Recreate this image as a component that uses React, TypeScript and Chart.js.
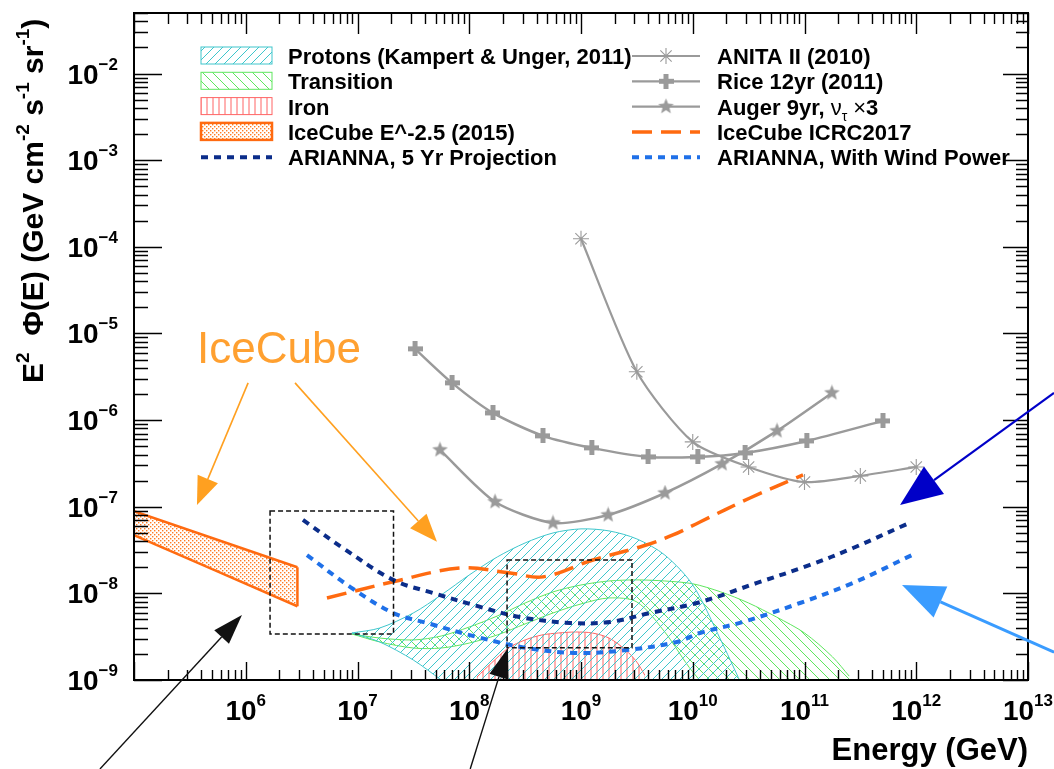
import React, { useEffect, useRef } from 'react';
import { Chart, registerables } from 'chart.js';

Chart.register(...registerables);

// ---------------- data (E in GeV, E^2 Phi in GeV cm^-2 s^-1 sr^-1) ----------------
const X_TICK_EXPONENTS = ['6', '7', '8', '9', '10', '11', '12', '13'];
const Y_TICK_EXPONENTS = ['\u22129', '\u22128', '\u22127', '\u22126', '\u22125', '\u22124', '\u22123', '\u22122'];

const ICECUBE_E = [1.0e5, 2.9e6];
const ICECUBE_HI = [8.9e-8, 2.0e-8];
const ICECUBE_LO = [4.7e-8, 7.1e-9];

const PROTON_E = [8.91e6, 1.58e7, 3.16e7, 5.62e7, 1.0e8, 1.78e8, 3.16e8, 5.62e8, 1.0e9, 1.78e9, 3.16e9, 5.62e9, 1.0e10, 1.78e10, 3.16e10];
const PROTON_HI = [3.49e-9, 3.98e-9, 5.94e-9, 9.6e-9, 1.63e-8, 2.63e-8, 3.82e-8, 4.98e-8, 5.55e-8, 5.26e-8, 4.25e-8, 2.77e-8, 1.25e-8, 2.9e-9, 5.9e-10];
const PROTON_LO = [3.49e-9, 2.75e-9, 1.7e-9, 1.0e-9, 5.9e-10, 5e-10, 5e-10, 5e-10, 5e-10, 5e-10, 5e-10, 5e-10, 5e-10, 5e-10, 5e-10];

const TRANS_E = [8.91e6, 1.58e7, 3.16e7, 5.62e7, 1.0e8, 1.78e8, 3.16e8, 5.62e8, 1.0e9, 1.78e9, 3.16e9, 5.62e9, 1.0e10, 1.78e10, 3.16e10, 5.62e10, 1.0e11, 1.78e11, 2.51e11];
const TRANS_HI = [3.4e-9, 3.05e-9, 2.9e-9, 3.22e-9, 4.09e-9, 5.48e-9, 7.74e-9, 1.04e-8, 1.25e-8, 1.39e-8, 1.43e-8, 1.39e-8, 1.29e-8, 1.04e-8, 7.74e-9, 5.33e-9, 3.49e-9, 1.85e-9, 1.11e-9];
const TRANS_LO = [3.4e-9, 2.75e-9, 2.34e-9, 2.34e-9, 2.67e-9, 3.31e-9, 4.44e-9, 5.94e-9, 7.55e-9, 8.85e-9, 7.96e-9, 3.58e-9, 1.24e-9, 5.9e-10, 5e-10, 5e-10, 5e-10, 5e-10, 5e-10];

const IRON_E = [1.17e8, 1.58e8, 2.24e8, 3.16e8, 4.47e8, 6.31e8, 8.91e8, 1.26e9, 1.78e9, 2.51e9, 3.16e9, 3.72e9];
const IRON_HI = [1.08e-9, 1.57e-9, 2.34e-9, 2.9e-9, 3.31e-9, 3.49e-9, 3.58e-9, 3.49e-9, 3.05e-9, 2.22e-9, 1.61e-9, 1.14e-9];
const IRON_LO = [5e-10, 5e-10, 5e-10, 5e-10, 5e-10, 5e-10, 5e-10, 5e-10, 5e-10, 5e-10, 5e-10, 5e-10];

const ANITA_E = [1.0e9, 3.16e9, 1.0e10, 3.16e10, 1.0e11, 3.16e11, 1.0e12];
const ANITA_F = [1.24e-4, 3.61e-6, 5.6e-7, 2.88e-7, 1.93e-7, 2.27e-7, 2.88e-7];

const RICE_E = [3.27e7, 7.01e7, 1.63e8, 4.57e8, 1.25e9, 3.98e9, 1.11e10, 2.94e10, 1.05e11, 5.04e11];
const RICE_F = [6.64e-6, 2.69e-6, 1.21e-6, 6.58e-7, 4.78e-7, 3.76e-7, 3.76e-7, 4.18e-7, 5.75e-7, 9.79e-7];

const AUGER_E = [5.47e7, 1.7e8, 5.61e8, 1.75e9, 5.65e9, 1.83e10, 5.68e10, 1.76e11];
const AUGER_F = [4.53e-7, 1.14e-7, 6.5e-8, 8.04e-8, 1.44e-7, 3.12e-7, 7.5e-7, 2.06e-6];

const ICRC_E = [5.33e6, 2.08e7, 8.26e7, 2.32e8, 4.57e8, 1.28e9, 3.59e9, 6.65e9, 1.16e10, 3.25e10, 9.7e10];
const ICRC_F = [8.85e-9, 1.36e-8, 1.96e-8, 1.72e-8, 1.55e-8, 2.43e-8, 3.52e-8, 4.72e-8, 6.67e-8, 1.26e-7, 2.33e-7];

const ARI5_E = [3.25e6, 7.41e6, 2.08e7, 4.74e7, 1.17e8, 2.84e8, 7.98e8, 1.82e9, 4.14e9, 1.09e10, 3.76e10, 1.12e11, 2.72e11, 8.26e11];
const ARI5_F = [7.05e-8, 3.34e-8, 1.43e-8, 1.01e-8, 7.16e-9, 5.33e-9, 4.55e-9, 4.68e-9, 5.94e-9, 7.74e-9, 1.32e-8, 2.13e-8, 3.34e-8, 6.32e-8];

const ARIW_E = [3.53e6, 8.57e6, 2.08e7, 4.19e7, 1.17e8, 3.29e8, 9.2e8, 2.58e9, 7.23e9, 1.16e10, 2.82e10, 9.12e10, 2.72e11, 9.16e11];
const ARIW_F = [2.77e-8, 1.19e-8, 5.94e-9, 4.55e-9, 3.14e-9, 2.34e-9, 2.05e-9, 2.22e-9, 2.75e-9, 3.49e-9, 4.68e-9, 7.74e-9, 1.32e-8, 2.77e-8];

const LEGEND_LEFT = ['Protons (Kampert & Unger, 2011)', 'Transition', 'Iron', 'IceCube E^-2.5 (2015)', 'ARIANNA, 5 Yr Projection'];
const LEGEND_RIGHT = ['ANITA II (2010)', 'Rice 12yr (2011)', 'Auger 9yr, ', 'IceCube ICRC2017', 'ARIANNA, With Wind Power'];

const X_TITLE = 'Energy (GeV)';
const ANNOT_TEXT = 'IceCube';
// annotation anchors in data coordinates [E, flux]
const ANNOT_TEXT_AT = [3.66e5, 4.58e-6];
const ZOOM_BOXES = [
  [1.65e6, 2.1e7, 3.4e-9, 8.9e-8],
  [2.18e8, 2.86e9, 2.35e-9, 2.43e-8],
];
const ARROW_FROM = [[1.05e6, 2.69e-6], [2.76e6, 2.69e-6], [4.96e4, 9.4e-11], [1.02e8, 9.4e-11], [1.71e13, 2.06e-6], [1.71e13, 2.1e-9]];
const ARROW_TO = [[3.66e5, 1.05e-7], [5.14e7, 3.93e-8], [9.25e5, 5.63e-9], [2.22e8, 2.34e-9], [7.16e11, 1.05e-7], [7.46e11, 1.25e-8]];

// ---------------- styling ----------------
const FONT = "'Liberation Sans', Arial, Helvetica, sans-serif";
const GRAY = '#9a9a9a';
const ORANGE = '#ff6a10';
const NAVY = '#0b2d8a';
const BLUE = '#1f70e8';
const CYAN = '#3ec6cc';
const GREEN = '#5fe65f';
const RED = '#ff6464';
const ARROW_STYLE = [
  { c: '#ffa020', w: 1.6, hl: 28, hw: 11 },
  { c: '#ffa020', w: 1.6, hl: 28, hw: 11 },
  { c: '#111111', w: 1.4, hl: 30, hw: 10 },
  { c: '#111111', w: 1.4, hl: 30, hw: 10 },
  { c: '#0000c8', w: 2.2, hl: 42, hw: 17 },
  { c: '#3a9cff', w: 3, hl: 42, hw: 17 },
];

const pts = (xs: number[], ys: number[]) => xs.map((x, i) => ({ x, y: ys[i] }));

function tile(kind: string, color: string, s: number) {
  const c = document.createElement('canvas');
  c.width = s; c.height = s;
  const g = c.getContext('2d')!;
  g.strokeStyle = color; g.fillStyle = color; g.lineWidth = 1;
  g.beginPath();
  if (kind === 'fwd') {
    g.moveTo(0, s); g.lineTo(s, 0);
    g.moveTo(-s / 2, s / 2); g.lineTo(s / 2, -s / 2);
    g.moveTo(s / 2, s * 1.5); g.lineTo(s * 1.5, s / 2);
    g.stroke();
  } else if (kind === 'back') {
    g.moveTo(0, 0); g.lineTo(s, s);
    g.moveTo(-s / 2, s / 2); g.lineTo(s / 2, s * 1.5);
    g.moveTo(s / 2, -s / 2); g.lineTo(s * 1.5, s / 2);
    g.stroke();
  } else if (kind === 'vert') {
    g.moveTo(s / 2, 0); g.lineTo(s / 2, s); g.stroke();
  } else {
    g.fillRect(0, 0, 1.4, 1.4);
    g.fillRect(s / 2, s / 2, 1.4, 1.4);
  }
  return c;
}

function plusMarker() {
  const c = document.createElement('canvas');
  c.width = 15; c.height = 15;
  const g = c.getContext('2d')!;
  g.fillStyle = GRAY;
  g.fillRect(5, 0, 5, 15);
  g.fillRect(0, 5, 15, 5);
  return c;
}

function starMarker() {
  const c = document.createElement('canvas');
  c.width = 17; c.height = 17;
  const g = c.getContext('2d')!;
  g.fillStyle = GRAY;
  g.beginPath();
  for (let i = 0; i < 10; i++) {
    const r = i % 2 === 0 ? 8.2 : 3.6;
    const a = -Math.PI / 2 + (i * Math.PI) / 5;
    const px = 8.5 + r * Math.cos(a), py = 8.5 + r * Math.sin(a);
    if (i === 0) g.moveTo(px, py); else g.lineTo(px, py);
  }
  g.closePath();
  g.fill();
  return c;
}

function arrow(ctx: CanvasRenderingContext2D, x1: number, y1: number, x2: number, y2: number, st: any) {
  const a = Math.atan2(y2 - y1, x2 - x1);
  const bx = x2 - st.hl * Math.cos(a), by = y2 - st.hl * Math.sin(a);
  ctx.strokeStyle = st.c; ctx.fillStyle = st.c; ctx.lineWidth = st.w;
  ctx.setLineDash([]);
  ctx.beginPath(); ctx.moveTo(x1, y1); ctx.lineTo(bx, by); ctx.stroke();
  ctx.beginPath();
  ctx.moveTo(x2, y2);
  ctx.lineTo(bx + st.hw * Math.sin(a), by - st.hw * Math.cos(a));
  ctx.lineTo(bx - st.hw * Math.sin(a), by + st.hw * Math.cos(a));
  ctx.closePath(); ctx.fill();
}

function drawPow(ctx: CanvasRenderingContext2D, exp: string, x: number, base: number, align: string) {
  ctx.font = `bold 28px ${FONT}`;
  const wb = ctx.measureText('10').width;
  ctx.font = `bold 17px ${FONT}`;
  const we = ctx.measureText(exp).width;
  const x0 = align === 'center' ? x - (wb + we) / 2 : x - (wb + we);
  ctx.textAlign = 'left';
  ctx.font = `bold 28px ${FONT}`;
  ctx.fillText('10', x0, base);
  ctx.font = `bold 17px ${FONT}`;
  ctx.fillText(exp, x0 + wb, base - 14);
}

export default function App() {
  const ref = useRef<HTMLCanvasElement>(null);

  useEffect(() => {
    const canvas = ref.current!;
    const cx = canvas.getContext('2d')!;
    const pat = {
      ice: cx.createPattern(tile('dots', '#ff7a22', 4), 'repeat')!,
      pro: cx.createPattern(tile('fwd', CYAN, 9), 'repeat')!,
      tra: cx.createPattern(tile('back', GREEN, 10), 'repeat')!,
      iron: cx.createPattern(tile('vert', RED, 6), 'repeat')!,
    };
    const plus = plusMarker();
    const star = starMarker();

    const band = (d: any[], bg: any, color: string, w: number, fill: any) => ({
      data: d, borderColor: color, borderWidth: w, backgroundColor: bg, fill, pointRadius: 0, tension: 0.3, order: 10,
    });

    const datasets: any[] = [
      band(pts(ICECUBE_E, ICECUBE_HI), pat.ice, ORANGE, 2.5, '+1'),
      band(pts(ICECUBE_E, ICECUBE_LO), 'transparent', ORANGE, 2.5, false),
      band([{ x: ICECUBE_E[1], y: ICECUBE_LO[1] }, { x: ICECUBE_E[1], y: ICECUBE_HI[1] }], 'transparent', ORANGE, 2.5, false),
      band(pts(PROTON_E, PROTON_HI), pat.pro, CYAN, 1, '+1'),
      band(pts(PROTON_E, PROTON_LO), 'transparent', CYAN, 1, false),
      band(pts(TRANS_E, TRANS_HI), pat.tra, GREEN, 1, '+1'),
      band(pts(TRANS_E, TRANS_LO), 'transparent', GREEN, 1, false),
      band(pts(IRON_E, IRON_HI), pat.iron, RED, 1, '+1'),
      band(pts(IRON_E, IRON_LO), 'transparent', RED, 1, false),
      {
        data: pts(ANITA_E, ANITA_F), borderColor: GRAY, borderWidth: 2.2, fill: false, tension: 0.25, order: 3,
        pointStyle: 'star', pointRadius: 8, pointBorderColor: GRAY, pointBorderWidth: 1.1,
      },
      {
        data: pts(RICE_E, RICE_F), borderColor: GRAY, borderWidth: 2.5, fill: false, tension: 0.25, order: 3,
        pointStyle: plus, pointRadius: 7,
      },
      {
        data: pts(AUGER_E, AUGER_F), borderColor: GRAY, borderWidth: 2.5, fill: false, tension: 0.25, order: 3,
        pointStyle: star, pointRadius: 7,
      },
      {
        data: pts(ICRC_E, ICRC_F), borderColor: ORANGE, borderWidth: 3.5, borderDash: [20, 9], fill: false, tension: 0.35,
        pointRadius: 0, order: 2,
      },
      {
        data: pts(ARI5_E, ARI5_F), borderColor: NAVY, borderWidth: 4, borderDash: [7, 6], fill: false, tension: 0.35,
        pointRadius: 0, order: 1,
      },
      {
        data: pts(ARIW_E, ARIW_F), borderColor: BLUE, borderWidth: 4, borderDash: [7, 6], fill: false, tension: 0.35,
        pointRadius: 0, order: 1,
      },
    ];

    const decor = {
      id: 'rootDecor',
      afterDraw(chart: any) {
        const ctx: CanvasRenderingContext2D = chart.ctx;
        const a = chart.chartArea;
        const xs = chart.scales.x, ys = chart.scales.y;
        const X = (v: number) => xs.getPixelForValue(v);
        const Y = (v: number) => ys.getPixelForValue(v);
        ctx.save();

        // zoom boxes
        ctx.strokeStyle = '#111'; ctx.lineWidth = 1.5; ctx.setLineDash([5, 3]);
        for (const b of ZOOM_BOXES) {
          const x0 = X(b[0]), x1 = X(b[1]), y0 = Y(b[2]), y1 = Y(b[3]);
          ctx.strokeRect(x0, y1, x1 - x0, y0 - y1);
        }
        ctx.setLineDash([]);

        // frame + ticks
        ctx.strokeStyle = '#000'; ctx.lineWidth = 2;
        ctx.strokeRect(a.left, a.top, a.right - a.left, a.bottom - a.top);
        ctx.lineWidth = 1.4;
        ctx.beginPath();
        for (let d = 5; d <= 13; d++) {
          for (let m = 1; m <= 9; m++) {
            const v = m * Math.pow(10, d);
            if (v > 1.0001e13) break;
            const px = Math.round(X(v)) + 0.5;
            const major = m === 1;
            ctx.moveTo(px, a.bottom); ctx.lineTo(px, a.bottom - (major ? 18 : 10));
            ctx.moveTo(px, a.top); ctx.lineTo(px, a.top + (major ? 21 : 11));
          }
        }
        for (let d = -9; d <= -2; d++) {
          for (let m = 1; m <= 9; m++) {
            const v = m * Math.pow(10, d);
            if (v > 5.001e-2) break;
            const py = Math.round(Y(v)) + 0.5;
            const major = m === 1;
            ctx.moveTo(a.left, py); ctx.lineTo(a.left + (major ? 28 : 14), py);
            ctx.moveTo(a.right, py); ctx.lineTo(a.right - (major ? 25 : 12), py);
          }
        }
        ctx.stroke();

        // tick labels
        ctx.fillStyle = '#000';
        X_TICK_EXPONENTS.forEach((e) => drawPow(ctx, e, X(Math.pow(10, Number(e))), a.bottom + 40, 'center'));
        Y_TICK_EXPONENTS.forEach((e, i) => drawPow(ctx, e, a.left - 16, Y(Math.pow(10, -9 + i)) + 10, 'right'));

        // axis titles
        ctx.font = `bold 31px ${FONT}`;
        ctx.textAlign = 'right';
        ctx.fillText(X_TITLE, a.right, 760);
        ctx.textAlign = 'left';
        ctx.save();
        ctx.translate(43, 383);
        ctx.rotate(-Math.PI / 2);
        const parts: [string, number][] = [['E', 0], ['2', 1], ['  \u03A6(E) (GeV cm', 0], ['-2', 1], [' s', 0], ['-1', 1], [' sr', 0], ['-1', 1], [')', 0]];
        let tx = 0;
        for (const [s, sup] of parts) {
          ctx.font = sup ? `bold 19px ${FONT}` : `bold 30px ${FONT}`;
          ctx.fillText(s, tx, sup ? -14 : 0);
          tx += ctx.measureText(s).width;
        }
        ctx.restore();

        // legend
        const rowY = (i: number) => 56 + 25.3 * i;
        const bands = [[pat.pro, CYAN, 1], [pat.tra, GREEN, 1], [pat.iron, RED, 1], [pat.ice, ORANGE, 2.5]];
        bands.forEach((b: any, i) => {
          const cy = rowY(i);
          ctx.fillStyle = b[0];
          ctx.fillRect(201, cy - 9, 71, 17);
          ctx.strokeStyle = b[1]; ctx.lineWidth = b[2];
          ctx.strokeRect(201, cy - 9, 71, 17);
        });
        const dashed = (x0: number, x1: number, cy: number, color: string, w: number, dash: number[]) => {
          ctx.strokeStyle = color; ctx.lineWidth = w; ctx.setLineDash(dash);
          ctx.beginPath(); ctx.moveTo(x0, cy); ctx.lineTo(x1, cy); ctx.stroke();
          ctx.setLineDash([]);
        };
        dashed(201, 272, rowY(4), NAVY, 4, [7, 6]);
        // right column symbols
        for (let i = 0; i < 3; i++) dashed(632, 700, rowY(i), GRAY, 2.2, []);
        {
          const cx0 = 666, cy = rowY(0);
          ctx.strokeStyle = GRAY; ctx.lineWidth = 1.1; ctx.beginPath();
          for (let k = 0; k < 4; k++) {
            const ang = (k * Math.PI) / 4;
            ctx.moveTo(cx0 - 8 * Math.cos(ang), cy - 8 * Math.sin(ang));
            ctx.lineTo(cx0 + 8 * Math.cos(ang), cy + 8 * Math.sin(ang));
          }
          ctx.stroke();
        }
        ctx.drawImage(plus, 666 - 7.5, rowY(1) - 7.5);
        ctx.drawImage(star, 666 - 8.5, rowY(2) - 8.5);
        dashed(632, 700, rowY(3), ORANGE, 3.5, [20, 9]);
        dashed(632, 700, rowY(4), BLUE, 4, [7, 6]);

        ctx.fillStyle = '#000';
        ctx.textAlign = 'left';
        const LF = 22;
        ctx.font = `bold ${LF}px ${FONT}`;
        LEGEND_LEFT.forEach((t, i) => ctx.fillText(t, 288, rowY(i) + 8));
        LEGEND_RIGHT.forEach((t, i) => {
          ctx.font = `bold ${LF}px ${FONT}`;
          ctx.fillText(t, 717, rowY(i) + 8);
          if (i === 2) {
            let px = 717 + ctx.measureText(t).width;
            ctx.font = `${LF}px ${FONT}`;
            ctx.fillText('\u03BD', px, rowY(i) + 8); px += ctx.measureText('\u03BD').width;
            ctx.font = `14px ${FONT}`;
            ctx.fillText('\u03C4', px, rowY(i) + 14); px += ctx.measureText('\u03C4').width + 6;
            ctx.font = `${LF}px ${FONT}`;
            ctx.fillText('\u00D7', px, rowY(i) + 8); px += ctx.measureText('\u00D7').width;
            ctx.font = `bold ${LF}px ${FONT}`;
            ctx.fillText('3', px, rowY(i) + 8);
          }
        });

        // annotations
        ctx.fillStyle = '#ffa030';
        ctx.font = `44px ${FONT}`;
        ctx.fillText(ANNOT_TEXT, X(ANNOT_TEXT_AT[0]), Y(ANNOT_TEXT_AT[1]));
        ARROW_FROM.forEach((f, i) => {
          const t = ARROW_TO[i];
          arrow(ctx, X(f[0]), Y(f[1]), X(t[0]), Y(t[1]), ARROW_STYLE[i]);
        });
        ctx.restore();
      },
    };

    const chart = new Chart(canvas, {
      type: 'line',
      data: { datasets },
      options: {
        animation: false,
        responsive: false,
        devicePixelRatio: 1,
        layout: { padding: { left: 134, right: 26, top: 13, bottom: 89 } },
        scales: {
          x: { type: 'logarithmic', min: 1e5, max: 1e13, display: false },
          y: { type: 'logarithmic', min: 1e-9, max: 5e-2, display: false },
        },
        plugins: { legend: { display: false }, tooltip: { enabled: false } },
        elements: { point: { radius: 0 } },
      },
      plugins: [decor],
    } as any);
    return () => chart.destroy();
  }, []);

  return (
    <div style={{ position: 'absolute', left: 0, top: 0, width: 1054, height: 769, background: '#fff' }}>
      <canvas ref={ref} width={1054} height={769} />
    </div>
  );
}
